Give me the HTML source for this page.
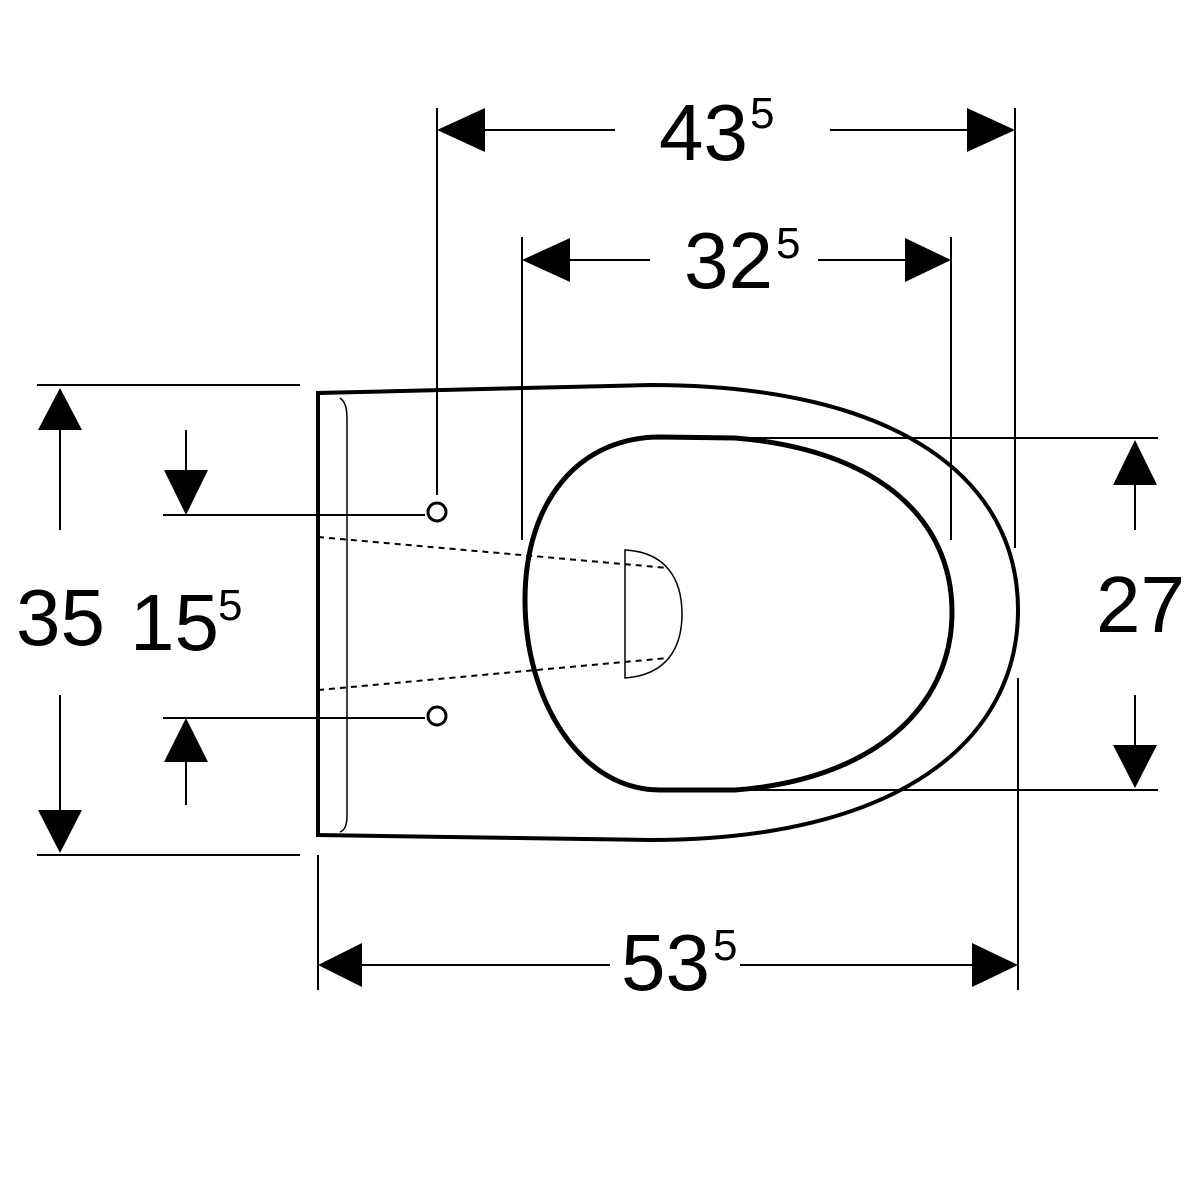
<!DOCTYPE html>
<html><head><style>html,body{margin:0;padding:0;background:#fff}svg{display:block}</style></head>
<body>
<svg width="1200" height="1200" viewBox="0 0 1200 1200" xmlns="http://www.w3.org/2000/svg" font-family="Liberation Sans, sans-serif">
<g stroke="#000" fill="none">
<line x1="437" y1="108" x2="437" y2="495" stroke-width="2"/>
<line x1="1015" y1="108" x2="1015" y2="548" stroke-width="2"/>
<line x1="522" y1="237" x2="522" y2="540" stroke-width="2"/>
<line x1="951" y1="237" x2="951" y2="540" stroke-width="2"/>
<line x1="37" y1="385" x2="300" y2="385" stroke-width="2"/>
<line x1="37" y1="855" x2="300" y2="855" stroke-width="2"/>
<line x1="163" y1="515" x2="425" y2="515" stroke-width="2"/>
<line x1="163" y1="718" x2="425" y2="718" stroke-width="2"/>
<line x1="735" y1="438" x2="1158" y2="438" stroke-width="2"/>
<line x1="735" y1="790" x2="1158" y2="790" stroke-width="2"/>
<line x1="318" y1="855" x2="318" y2="990" stroke-width="2"/>
<line x1="1018" y1="678" x2="1018" y2="990" stroke-width="2"/>
<line x1="485" y1="130" x2="615" y2="130" stroke-width="2"/>
<line x1="830" y1="130" x2="970" y2="130" stroke-width="2"/>
<line x1="570" y1="260" x2="650" y2="260" stroke-width="2"/>
<line x1="818" y1="260" x2="905" y2="260" stroke-width="2"/>
<line x1="60" y1="430" x2="60" y2="530" stroke-width="2"/>
<line x1="60" y1="695" x2="60" y2="810" stroke-width="2"/>
<line x1="186" y1="430" x2="186" y2="470" stroke-width="2"/>
<line x1="186" y1="762" x2="186" y2="805" stroke-width="2"/>
<line x1="1135" y1="485" x2="1135" y2="530" stroke-width="2"/>
<line x1="1135" y1="695" x2="1135" y2="745" stroke-width="2"/>
<line x1="362" y1="965" x2="610" y2="965" stroke-width="2"/>
<line x1="740" y1="965" x2="972" y2="965" stroke-width="2"/>
<path d="M318,835 L318,393 L650,385 C900,385 1018,480 1018,610 C1018,740 900,840 650,840 Z" stroke-width="4"/>
<path d="M340,398 C346,402 347,410 347,420 L347,815 C347,825 345,830 340,832" stroke-width="1.5"/>
<path d="M660,437 L735,438 C880,450 952,520 952,612 C952,710 870,780 735,790 L660,790 C580,790 525,700 525,600 C525,500 580,437 660,437 Z" stroke-width="5"/>
<line x1="318" y1="537" x2="668" y2="568" stroke-width="2" stroke-dasharray="6,5"/>
<line x1="318" y1="690" x2="668" y2="658" stroke-width="2" stroke-dasharray="6,5"/>
<circle cx="437" cy="512" r="9" stroke-width="3"/>
<circle cx="437" cy="716" r="9" stroke-width="3"/>
<path d="M625,550 L625,678 C665,675 682,650 682,614 C682,578 665,552 625,550 Z" stroke-width="1.5"/>
</g>
<g fill="#000">
<polygon points="437,130 485,108 485,152"/>
<polygon points="1015,130 967,108 967,152"/>
<polygon points="522,260 570,238 570,282"/>
<polygon points="951,260 905,238 905,282"/>
<polygon points="60,388 38,430 82,430"/>
<polygon points="60,853 38,810 82,810"/>
<polygon points="186,515 164,470 208,470"/>
<polygon points="186,718 164,762 208,762"/>
<polygon points="1135,440 1113,485 1157,485"/>
<polygon points="1135,788 1113,745 1157,745"/>
<polygon points="318,965 362,943 362,987"/>
<polygon points="1018,965 972,943 972,987"/>
</g>
<g font-size="80" fill="#000">
<text x="659" y="160">43</text><text x="750" y="128" font-size="44">5</text>
<text x="684" y="288">32</text><text x="776" y="258" font-size="44">5</text>
<text x="16" y="645">35</text>
<text x="130" y="650">15</text><text x="218" y="620" font-size="44">5</text>
<text x="1096" y="632">27</text>
<text x="621" y="990">53</text><text x="713" y="960" font-size="44">5</text>
</g>
</svg>
</body></html>
